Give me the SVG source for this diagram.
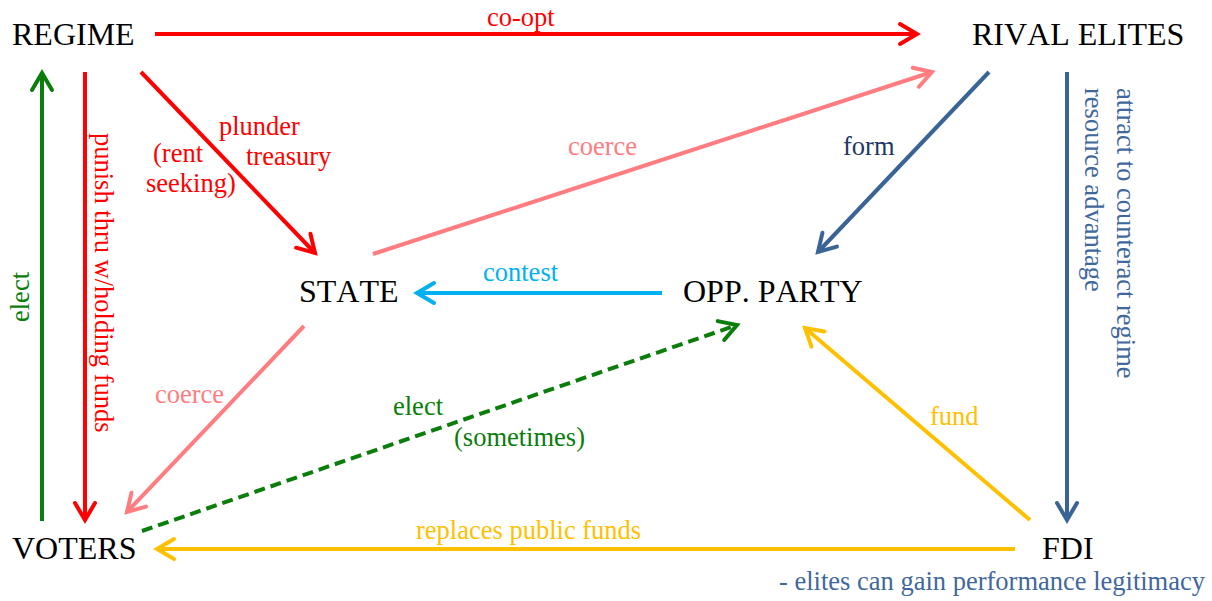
<svg xmlns="http://www.w3.org/2000/svg" width="1212" height="601" viewBox="0 0 1212 601">
<style>
text{font-kerning:none}
.node{font-family:"Liberation Serif","Times New Roman",serif;font-size:32px;fill:#000}
.lbl{font-family:"Liberation Serif","Times New Roman",serif;font-size:26.5px}
.ln{fill:none;stroke-width:4}
.red{stroke:#ff0000}.pink{stroke:#ff7c80}.green{stroke:#0a7d0a}.cyan{stroke:#00b0f0}.yel{stroke:#ffc000}.blue{stroke:#3a6496}
.tred{fill:#ff0000}.tpink{fill:#ff7c80}.tgreen{fill:#0a7d0a}.tcyan{fill:#00b0f0}.tyel{fill:#ffc000}.tblue{fill:#41689c}.tnavy{fill:#203864}
</style>
<defs>
<marker id="aRed" viewBox="-22 -13 26 26" markerWidth="26" markerHeight="26" refX="0" refY="0" orient="auto" markerUnits="userSpaceOnUse"><path d="M-17,-10 L0,0 L-17,10" fill="none" stroke="#ff0000" stroke-width="4" stroke-linecap="round"/></marker>
<marker id="aPink" viewBox="-22 -13 26 26" markerWidth="26" markerHeight="26" refX="0" refY="0" orient="auto" markerUnits="userSpaceOnUse"><path d="M-17,-10 L0,0 L-17,10" fill="none" stroke="#ff7c80" stroke-width="4" stroke-linecap="round"/></marker>
<marker id="aGreen" viewBox="-22 -13 26 26" markerWidth="26" markerHeight="26" refX="0" refY="0" orient="auto" markerUnits="userSpaceOnUse"><path d="M-17,-10 L0,0 L-17,10" fill="none" stroke="#0a7d0a" stroke-width="4" stroke-linecap="round"/></marker>
<marker id="aCyan" viewBox="-22 -13 26 26" markerWidth="26" markerHeight="26" refX="0" refY="0" orient="auto" markerUnits="userSpaceOnUse"><path d="M-17,-10 L0,0 L-17,10" fill="none" stroke="#00b0f0" stroke-width="4" stroke-linecap="round"/></marker>
<marker id="aYel" viewBox="-22 -13 26 26" markerWidth="26" markerHeight="26" refX="0" refY="0" orient="auto" markerUnits="userSpaceOnUse"><path d="M-17,-10 L0,0 L-17,10" fill="none" stroke="#ffc000" stroke-width="4" stroke-linecap="round"/></marker>
<marker id="aBlue" viewBox="-22 -13 26 26" markerWidth="26" markerHeight="26" refX="0" refY="0" orient="auto" markerUnits="userSpaceOnUse"><path d="M-17,-10 L0,0 L-17,10" fill="none" stroke="#3a6496" stroke-width="4" stroke-linecap="round"/></marker>
</defs>
<rect width="1212" height="601" fill="#fff"/>
<g id="connectors">
<line class="ln red" x1="155" y1="34" x2="917" y2="34" marker-end="url(#aRed)"/>
<line class="ln green" x1="42" y1="521" x2="42" y2="73" marker-end="url(#aGreen)"/>
<line class="ln red" x1="85" y1="72" x2="85" y2="520" marker-end="url(#aRed)"/>
<line class="ln red" x1="141" y1="72" x2="315" y2="253" marker-end="url(#aRed)"/>
<line class="ln pink" x1="373" y1="254" x2="932" y2="72" marker-end="url(#aPink)"/>
<line class="ln blue" x1="989" y1="72" x2="818" y2="252" marker-end="url(#aBlue)"/>
<line class="ln blue" x1="1067" y1="72" x2="1067" y2="520" marker-end="url(#aBlue)"/>
<line class="ln cyan" x1="662" y1="293" x2="417" y2="293" marker-end="url(#aCyan)"/>
<line class="ln pink" x1="304" y1="326" x2="127" y2="512" marker-end="url(#aPink)"/>
<line class="ln green" x1="142" y1="531" x2="737" y2="325" stroke-dasharray="11 6" marker-end="url(#aGreen)"/>
<line class="ln yel" x1="1030" y1="520" x2="805" y2="328" marker-end="url(#aYel)"/>
<line class="ln yel" x1="1015" y1="549" x2="157" y2="549" marker-end="url(#aYel)"/>
</g>
<g id="edge-labels">
<text class="lbl tred" x="487" y="26">co-opt</text>
<text class="lbl tred" x="219" y="135">plunder</text>
<text class="lbl tred" x="246" y="165">treasury</text>
<text class="lbl tred" x="153" y="162">(rent</text>
<text class="lbl tred" x="146" y="192">seeking)</text>
<text class="lbl tpink" x="568" y="155">coerce</text>
<text class="lbl tnavy" x="843" y="155">form</text>
<text class="lbl tcyan" x="483" y="281">contest</text>
<text class="lbl tpink" x="155" y="403">coerce</text>
<text class="lbl tgreen" x="393" y="415">elect</text>
<text class="lbl tgreen" x="454" y="446">(sometimes)</text>
<text class="lbl tyel" x="930" y="425">fund</text>
<text class="lbl tyel" x="416" y="539">replaces public funds</text>
<text class="lbl tgreen" transform="translate(29,322) rotate(-90)">elect</text>
<text class="lbl tred" transform="translate(95,133) rotate(90)">punish thru w/holding funds</text>
<text class="lbl tblue" transform="translate(1117,88) rotate(90)"><tspan x="0" y="0">attract to counteract regime</tspan><tspan x="0" y="32">resource advantage</tspan></text>
</g>
<g id="REGIME"><text class="node" x="12" y="45">REGIME</text></g>
<g id="RIVAL_ELITES"><text class="node" x="972" y="45">RIVAL ELITES</text></g>
<g id="STATE"><text class="node" x="299" y="302">STATE</text></g>
<g id="OPP_PARTY"><text class="node" x="683" y="302">OPP. PARTY</text></g>
<g id="VOTERS"><text class="node" x="12" y="559">VOTERS</text></g>
<g id="FDI"><text class="node" x="1042" y="559">FDI</text>
<text class="lbl tblue" x="779" y="590">- elites can gain performance legitimacy</text></g>
</svg>
